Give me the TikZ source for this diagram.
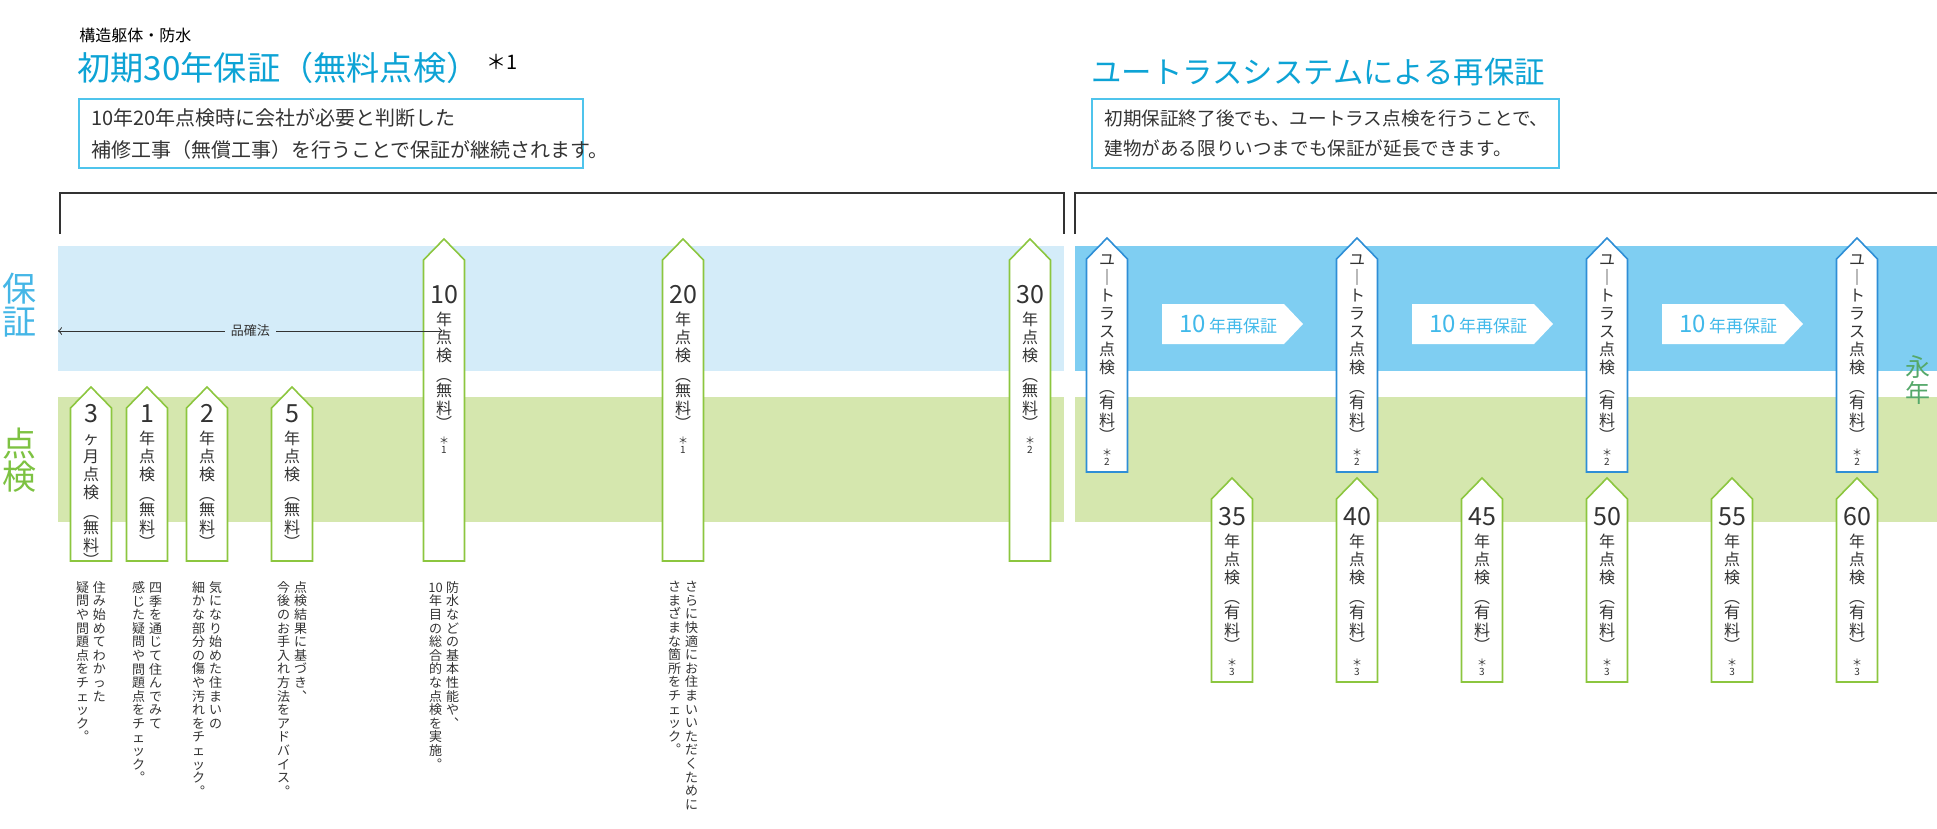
\documentclass[tikz,border=0pt]{standalone}
\usepackage{fontspec}
\setmainfont{Noto Sans CJK JP}

\definecolor{ink}{HTML}{333333}
\definecolor{titlecol}{HTML}{0DA3D5}
\definecolor{boxcol}{HTML}{4FC4EC}
\definecolor{lightblue}{HTML}{D4ECF9}
\definecolor{darkblue}{HTML}{7FCEF2}
\definecolor{lightgreen}{HTML}{D5E7AE}
\definecolor{pingreen}{HTML}{8CC63F}
\definecolor{pinblue}{HTML}{2E8ED6}
\definecolor{hocol}{HTML}{45B6E6}
\definecolor{tencol}{HTML}{7DC242}
\definecolor{eicol}{HTML}{55A86A}
\definecolor{recol}{HTML}{41B9EA}

% vertical text: one character per line
\def\vend{}
\newcommand\vchars[1]{\vloop#1\vend}
\def\vloop#1{\ifx\vend#1\else\hbox to 0pt{\hss#1\hss}\expandafter\vloop\fi}
\def\ten{10}
\newcommand\numline[1]{{\fontsize{12.5}{9}\selectfont\hbox to 0pt{\hss#1\hss}}\vskip 2pt}
\newcommand\ntext[4]{\vbox{\fontsize{8}{9}\selectfont
  \ifx\relax#1\relax\else\numline{#1}\fi
  \vchars{#2}\vskip 1pt\vchars{︵}\vskip -1.5pt\vchars{#3}\vskip -1.5pt\vchars{︶}%
  \ifx\relax#4\relax\else\vskip 3pt{\fontsize{5}{4.6}\selectfont\vchars{＊#4}}\fi}}
\newcommand\dtext[2]{\hbox{\fontsize{6.5}{6.8}\selectfont
  \vtop{\vchars{#2}}\kern 8.5pt\vtop{\vchars{#1}}}}
% pin: name, x, tip, bottom, style, text top, text
\newcommand\pin[7]{%
  \draw[#5] (#2-20.5,#4) -- (#2-20.5,#3+21) -- (#2,#3) -- (#2+20.5,#3+21) -- (#2+20.5,#4) -- cycle;
  \node[vtext,anchor=north] (#1) at (#2,#6) {#7};}

\tikzset{
  gpin/.style={draw=pingreen,fill=white,line width=0.8pt},
  bpin/.style={draw=pinblue,fill=white,line width=0.8pt},
  vtext/.style={inner sep=0pt,text=ink},
  desc/.style={inner sep=0pt,anchor=north,text=ink},
  bracket/.style={draw=ink,line width=0.6pt},
  infobox/.style={draw=boxcol,line width=0.7pt},
}

\begin{document}
\begin{tikzpicture}[x=0.5pt,y=-0.5pt]
  \useasboundingbox (0,0) rectangle (1937,829);
  % headings
  \node[anchor=west,inner sep=0pt,font=\fontsize{8}{9}\selectfont] (sub) at (79,35) {構造躯体・防水};
  \node[anchor=west,inner sep=0pt,text=titlecol,font=\fontsize{16.6}{18}\selectfont] (ttl) at (77,68) {初期30年保証（無料点検）};
  \node[anchor=west,inner sep=0pt,font=\fontsize{10}{10}\selectfont] (ttlnote) at (486,62) {＊1};
  \node[anchor=west,inner sep=0pt,text=titlecol,font=\fontsize{15.2}{16}\selectfont] (ttr) at (1091,72) {ユートラスシステムによる再保証};
  \draw[infobox] (79,99) rectangle (583,168);
  \node[anchor=west,inner sep=0pt,text=ink,font=\fontsize{10}{11}\selectfont] (bl1) at (91,118) {10年20年点検時に会社が必要と判断した};
  \node[anchor=west,inner sep=0pt,text=ink,font=\fontsize{10}{11}\selectfont] (bl2) at (91,150) {補修工事（無償工事）を行うことで保証が継続されます。};
  \draw[infobox] (1092,99) rectangle (1559,168);
  \node[anchor=west,inner sep=0pt,text=ink,font=\fontsize{9.3}{10}\selectfont] (br1) at (1104,118) {初期保証終了後でも、ユートラス点検を行うことで、};
  \node[anchor=west,inner sep=0pt,text=ink,font=\fontsize{9.3}{10}\selectfont] (br2) at (1104,148) {建物がある限りいつまでも保証が延長できます。};
  % brackets
  \draw[bracket] (60,234) -- (60,193) -- (1064,193) -- (1064,234);
  \draw[bracket] (1075,234) -- (1075,193) -- (1937,193);
  % bands
  \fill[lightblue] (58,246) rectangle (1064,371);
  \fill[darkblue] (1075,246) rectangle (1937,371);
  \fill[lightgreen] (58,397) rectangle (1064,522);
  \fill[lightgreen] (1075,397) rectangle (1937,522);
  % side labels
  \node[inner sep=0pt,text=hocol] (hosho) at (19,305) {\vbox{\fontsize{17}{16.5}\selectfont\vchars{保証}}};
  \node[inner sep=0pt,text=tencol] (tenken) at (19,460) {\vbox{\fontsize{17}{16.5}\selectfont\vchars{点検}}};
  \node[inner sep=0pt,text=eicol] (einen) at (1918,380) {\vbox{\fontsize{12.5}{13}\selectfont\vchars{永年}}};
  % free inspections
  \pin{p3m}{91}{387}{561}{gpin}{404}{\ntext{3}{ヶ月点検}{無料}{}}
  \pin{p1}{147}{387}{561}{gpin}{404}{\ntext{1}{年点検}{無料}{}}
  \pin{p2}{207}{387}{561}{gpin}{404}{\ntext{2}{年点検}{無料}{}}
  \pin{p5}{292}{387}{561}{gpin}{404}{\ntext{5}{年点検}{無料}{}}
  \pin{p10}{444}{239}{561}{gpin}{285}{\ntext{10}{年点検}{無料}{1}}
  \pin{p20}{683}{239}{561}{gpin}{285}{\ntext{20}{年点検}{無料}{1}}
  \pin{p30}{1030}{239}{561}{gpin}{285}{\ntext{30}{年点検}{無料}{2}}
  % law span
  \coordinate (lawstart) at (58,331);
  \draw[ink,line width=0.5pt,<->] (lawstart) -- (p10.west |- lawstart) node[midway,fill=lightblue,inner sep=3pt,font=\fontsize{6.5}{7}\selectfont] (law) {品確法};
  % paid inspections
  \foreach \k in {0,...,3} {
    \pin{u\k}{1107+250*\k}{238}{472}{bpin}{254}{\ntext{}{ユ｜トラス点検}{有料}{2}}
  }
  \foreach \n [count=\k from 0] in {35,40,45,50,55,60} {
    \pin{q\n}{1232+125*\k}{478}{682}{gpin}{507}{\ntext{\n}{年点検}{有料}{3}}
  }
  % re-warranty arrows
  \foreach \k in {0,1,2} {
    \fill[white] (1162+250*\k,304) -- (1284+250*\k,304) -- (1303+250*\k,324) -- (1284+250*\k,344) -- (1162+250*\k,344) -- cycle;
    \node[text=recol,inner sep=0pt] (re\k) at (1228+250*\k,324) {{\fontsize{12}{12}\selectfont 10}\,{\fontsize{8.5}{9}\selectfont 年再保証}};
  }
  % notes
  \node[desc] (d3m) at (91,581) {\dtext{住み始めてわかった}{疑問や問題点をチェック︒}};
  \node[desc] (d1) at (147,581) {\dtext{四季を通じて住んでみて}{感じた疑問や問題点をチェック︒}};
  \node[desc] (d2) at (207,581) {\dtext{気になり始めた住まいの}{細かな部分の傷や汚れをチェック︒}};
  \node[desc] (d5) at (292,581) {\dtext{点検結果に基づき︑}{今後のお手入れ方法をアドバイス︒}};
  \node[desc] (d10) at (444,581) {\dtext{防水などの基本性能や︑}{\ten 年目の総合的な点検を実施︒}};
  \node[desc] (d20) at (683,581) {\dtext{さらに快適にお住まいいただくために}{さまざまな箇所をチェック︒}};
\end{tikzpicture}
\end{document}
